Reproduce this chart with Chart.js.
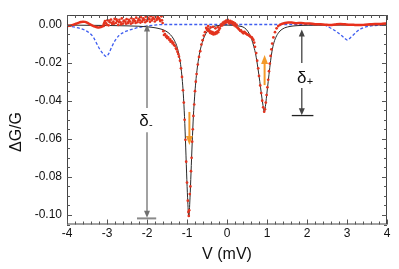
<!DOCTYPE html>
<html><head><meta charset="utf-8">
<script src="https://cdn.jsdelivr.net/npm/chart.js@4/dist/chart.umd.min.js"></script>
<style>html,body{margin:0;padding:0;background:#fff}#wrap{width:399px;height:269px}</style>
</head><body><div id="wrap"><canvas id="c" width="399" height="269"></canvas></div>
<script>
// ---- tick labels ----
const xTicks = [-4, -3, -2, -1, 0, 1, 2, 3, 4];
const yTicks = [0, -0.02, -0.04, -0.06, -0.08, -0.10];

// ---- black fit curve ----
const fitV = [-4.0,-3.5,-3.0,-2.5,-2.2,-2.0,-1.8,-1.65,-1.55,-1.45,-1.38,-1.32,-1.26,-1.21,-1.17,-1.13,-1.10,-1.07,-1.04,-1.01,-0.985,-0.955,-0.925,-0.90,-0.87,-0.84,-0.81,-0.78,-0.75,-0.71,-0.67,-0.62,-0.56,-0.50,-0.42,-0.35,-0.20,0.00,0.15,0.30,0.40,0.48,0.56,0.62,0.67,0.72,0.77,0.82,0.86,0.90,0.93,0.96,0.99,1.03,1.07,1.11,1.16,1.22,1.30,1.40,1.55,1.75,2.0,3.0,4.0];
const fitG = [-0.0003,-0.0004,-0.0005,-0.0007,-0.0009,-0.0012,-0.0017,-0.0024,-0.0032,-0.0046,-0.0062,-0.0082,-0.0110,-0.0150,-0.0195,-0.0265,-0.0340,-0.0450,-0.0600,-0.0780,-0.0910,-0.1010,-0.0910,-0.0780,-0.0620,-0.0480,-0.0380,-0.0300,-0.0240,-0.0180,-0.0135,-0.0095,-0.0060,-0.0038,-0.0020,-0.0011,-0.0005,-0.0003,-0.0004,-0.0008,-0.0013,-0.0025,-0.0050,-0.0080,-0.0115,-0.0160,-0.0225,-0.0300,-0.0365,-0.0425,-0.0460,-0.0430,-0.0375,-0.0300,-0.0225,-0.0160,-0.0105,-0.0068,-0.0040,-0.0022,-0.0011,-0.0006,-0.0004,-0.0003,-0.0002];

// ---- blue dashed curve ----
const blueV = [-4.0,-3.8,-3.68,-3.55,-3.43,-3.33,-3.26,-3.18,-3.09,-3.02,-2.95,-2.88,-2.80,-2.70,-2.59,-2.45,-2.34,-2.2,-2.0,-1.8,-1.6,2.4,2.49,2.62,2.74,2.84,2.92,3.01,3.09,3.17,3.27,3.37,3.5,3.6,3.8,4.0];
const blueG = [-0.0008,-0.0014,-0.0020,-0.0030,-0.0046,-0.0070,-0.0099,-0.0130,-0.0155,-0.0168,-0.0150,-0.0117,-0.0085,-0.0058,-0.0042,-0.0030,-0.0023,-0.0015,-0.0008,-0.0003,0.0,0.0,-0.0008,-0.0022,-0.0038,-0.0054,-0.0068,-0.0082,-0.0068,-0.0052,-0.0033,-0.0020,-0.0011,-0.0007,-0.0004,-0.0003];

// ---- red data: dense segments ----
const redLeftV = [-4.0,-3.95,-3.9,-3.85,-3.8,-3.75,-3.7,-3.65,-3.6,-3.55,-3.5,-3.45,-3.4,-3.35,-3.3,-3.25,-3.2,-3.15,-3.1,-3.06];
const redLeftG = [-0.0008,-0.0007,-0.0005,-0.0002,0.0002,0.0006,0.0010,0.0013,0.0015,0.0014,0.0010,0.0004,-0.0002,-0.0007,-0.0011,-0.0014,-0.0015,-0.0013,-0.0009,-0.0004];
const redRightV = [1.30,1.37,1.45,1.53,1.62,1.74,1.85,1.95,2.07,2.2,2.33,2.45,2.58,2.7,2.83,2.95,3.08,3.2,3.33,3.45,3.58,3.7,3.83,3.95,4.0];
const redRightG = [-0.0005,0.0003,0.0008,0.0010,0.0010,0.0007,0.0008,0.0006,0.0005,0.0002,0.0001,-0.0001,-0.0003,0.0000,0.0003,0.0001,-0.0001,-0.0002,-0.0003,-0.0001,0.0001,0.0003,0.0003,0.0005,0.0005];

// ---- red data: individual points ----
const redV = [
-3.08,-3.05,-3.02,-2.99,-2.96,-2.93,-2.9,-2.87,-2.84,-2.81,-2.78,-2.75,-2.72,-2.69,-2.66,-2.63,-2.6,-2.57,-2.54,-2.51,-2.48,-2.45,-2.42,-2.39,-2.36,-2.33,-2.3,-2.27,-2.24,-2.21,-2.18,-2.15,-2.12,-2.09,-2.06,-2.03,-2.0,-1.97,-1.94,-1.91,-1.88,-1.85,-1.82,-1.79,-1.76,-1.73,-1.7,-1.67,-1.64,-1.61,
-3.065,-3.005,-2.945,-2.885,-2.825,-2.765,-2.705,-2.645,-2.585,-2.525,-2.465,-2.405,-2.345,-2.285,-2.225,-2.165,-2.105,-2.045,-1.985,-1.925,-1.865,-1.805,-1.745,-1.685,-1.625,
-1.59,-1.575,-1.55,-1.525,-1.51,-1.49,-1.47,-1.44,-1.42,-1.41,-1.38,-1.36,-1.34,-1.325,-1.30,-1.275,-1.26,-1.24,-1.22,-1.20,
-1.175,-1.15,-1.125,-1.10,-1.08,-1.06,-1.04,-1.02,-1.00,-0.98,-0.965,-0.955,
-0.945,-0.93,-0.915,-0.90,-0.885,-0.87,-0.855,-0.84,-0.82,-0.80,-0.78,-0.76,-0.73,-0.70,-0.67,-0.64,-0.61,-0.58,-0.55,
-0.52,-0.50,-0.48,-0.46,-0.44,-0.42,-0.40,-0.38,-0.36,-0.34,-0.32,-0.30,-0.28,-0.26,-0.24,-0.22,-0.20,-0.18,-0.16,-0.14,-0.12,-0.10,-0.08,-0.06,-0.04,-0.02,0.00,0.02,0.04,0.06,0.08,0.10,0.12,0.14,0.16,0.18,0.20,0.22,0.24,0.26,-0.47,-0.41,-0.35,-0.29,-0.23,
0.28,0.30,0.33,0.35,0.37,0.39,0.41,0.43,0.45,0.47,0.49,0.51,0.53,0.55,0.57,0.59,0.62,0.64,0.66,0.68,
0.70,0.73,0.755,0.78,0.80,0.83,0.855,0.88,0.905,0.93,0.95,0.97,0.99,1.01,1.03,1.05,1.07,1.09,1.11,1.13,1.16,1.20,1.24,1.28];
const redG = [
0.0002,0.0018,0.0006,0.0022,-0.0004,0.0012,0.0026,0.0003,0.0015,0.0030,0.0008,0.0019,-0.0002,0.0025,0.0011,0.0032,0.0005,0.0021,0.0014,0.0028,0.0007,0.0024,0.0016,0.0033,0.0009,0.0027,0.0018,0.0036,0.0012,0.0030,0.0022,0.0038,0.0015,0.0032,0.0025,0.0041,0.0019,0.0035,0.0028,0.0044,0.0021,0.0037,0.0030,0.0046,0.0024,0.0039,0.0033,0.0018,0.0043,0.0008,
0.0010,-0.0002,0.0020,0.0009,0.0004,0.0027,0.0013,0.0001,0.0017,0.0004,0.0013,0.0004,0.0020,0.0008,0.0021,0.0010,0.0024,0.0012,0.0027,0.0014,0.0029,0.0016,0.0031,0.0026,0.0022,
-0.0035,-0.0055,-0.0050,-0.0064,-0.0060,-0.0072,-0.0068,-0.0081,-0.0078,-0.0090,-0.0088,-0.0099,-0.0096,-0.0108,-0.0112,-0.0125,-0.0130,-0.0143,-0.0155,-0.0169,
-0.0190,-0.0230,-0.0275,-0.0345,-0.0410,-0.0500,-0.0605,-0.0720,-0.0830,-0.0925,-0.0985,-0.1005,
-0.0975,-0.0890,-0.0850,-0.0770,-0.0700,-0.0615,-0.0550,-0.0480,-0.0420,-0.0350,-0.0300,-0.0260,-0.0210,-0.0170,-0.0140,-0.0105,-0.0082,-0.0058,-0.0040,
-0.0018,-0.0028,-0.0022,-0.0035,-0.0030,-0.0044,-0.0037,-0.0048,-0.0040,-0.0052,-0.0045,-0.0050,-0.0041,-0.0047,-0.0036,-0.0040,-0.0028,-0.0020,-0.0008,0.0002,-0.0005,0.0010,0.0004,0.0016,0.0008,0.0020,0.0012,0.0024,0.0015,0.0006,0.0019,0.0009,0.0016,0.0003,0.0011,-0.0004,0.0006,-0.0010,-0.0002,-0.0016,-0.0008,-0.0015,-0.0012,-0.0020,-0.0014,
-0.0020,-0.0026,-0.0033,-0.0030,-0.0038,-0.0042,-0.0046,-0.0038,-0.0043,-0.0047,-0.0050,-0.0053,-0.0055,-0.0057,-0.0060,-0.0065,-0.0067,-0.0075,-0.0081,-0.0095,
-0.0117,-0.0150,-0.0190,-0.0230,-0.0270,-0.0320,-0.0360,-0.0400,-0.0435,-0.0458,-0.0445,-0.0410,-0.0370,-0.0330,-0.0290,-0.0245,-0.0205,-0.0165,-0.0130,-0.0100,-0.0068,-0.0040,-0.0020,-0.0008];

// ---- annotations (data units) ----
const deltaMinus = {v:-2.0, tip1:0.0, gap1:-0.0438, gap2:-0.0566, tip2:-0.1015, barFrom:-2.25, barTo:-1.77, barG:-0.1018, labelV:-2.075, labelG:-0.0533, sub:'-'};
const deltaPlus  = {v:1.87, tip1:-0.0026, gap1:-0.0202, gap2:-0.0333, tip2:-0.0476, barFrom:1.62, barTo:2.16, barG:-0.0478, labelV:1.87, labelG:-0.0307, sub:'+'};
const orangeArrows = [{v:-0.94, from:-0.0459, to:-0.0633}, {v:0.94, from:-0.0318, to:-0.0160}];

const pts = (xs, ys) => xs.map((v, i) => ({x: v, y: ys[i]}));
const FONT = '"Liberation Sans", Arial, Helvetica, sans-serif';

function arrowHead(ctx, x, yTip, dir, hw, hl) {
  ctx.beginPath();
  ctx.moveTo(x, yTip);
  ctx.lineTo(x - hw / 2, yTip - dir * hl);
  ctx.lineTo(x + hw / 2, yTip - dir * hl);
  ctx.closePath();
  ctx.fill();
}
function arrow(ctx, x, y0, y1, color, lw, hw, hl) {
  const dir = Math.sign(y1 - y0);
  ctx.strokeStyle = color; ctx.fillStyle = color; ctx.lineWidth = lw;
  ctx.beginPath(); ctx.moveTo(x, y0); ctx.lineTo(x, y1 - dir * hl * 0.7); ctx.stroke();
  arrowHead(ctx, x, y1, dir, hw, hl);
}

const deco = {
  id: 'deco',
  afterDatasetsDraw(chart) {
    const {ctx, chartArea: a, scales: {x, y}} = chart;
    ctx.save();
    // frame
    ctx.strokeStyle = '#444'; ctx.lineWidth = 1;
    ctx.strokeRect(a.left + 0.5, a.top + 0.5, a.right - a.left - 1, a.bottom - a.top - 1);
    // inward ticks
    ctx.strokeStyle = '#555'; ctx.lineWidth = 1;
    ctx.beginPath();
    for (let k = -20; k <= 20; k++) {
      const v = k / 5; const px = Math.round(x.getPixelForValue(v)) + 0.5;
      const len = (k % 5 === 0) ? 5 : 3;
      ctx.moveTo(px, a.bottom); ctx.lineTo(px, a.bottom - len);
      ctx.moveTo(px, a.top); ctx.lineTo(px, a.top + len);
    }
    for (let k = -21; k <= 1; k++) {
      const v = k * 0.005; const py = Math.round(y.getPixelForValue(v)) + 0.5;
      const len = (k % 4 === 0) ? 5 : 3;
      ctx.moveTo(a.left, py); ctx.lineTo(a.left + len, py);
      ctx.moveTo(a.right, py); ctx.lineTo(a.right - len, py);
    }
    ctx.stroke();

    // delta annotations
    [[deltaMinus, '#707070', '#8a8a8a', 2], [deltaPlus, '#444', '#222', 1.3]].forEach(([d, c, bc, bw]) => {
      const px = x.getPixelForValue(d.v);
      arrow(ctx, px, y.getPixelForValue(d.gap1), y.getPixelForValue(d.tip1), c, 1.3, 6, 7);
      arrow(ctx, px, y.getPixelForValue(d.gap2), y.getPixelForValue(d.tip2), c, 1.3, 6, 7);
      ctx.strokeStyle = bc; ctx.lineWidth = bw;
      ctx.beginPath();
      const by = y.getPixelForValue(d.barG);
      ctx.moveTo(x.getPixelForValue(d.barFrom), by); ctx.lineTo(x.getPixelForValue(d.barTo), by);
      ctx.stroke();
      ctx.fillStyle = '#111';
      ctx.font = '17px ' + FONT; ctx.textAlign = 'center'; ctx.textBaseline = 'alphabetic';
      const lx = x.getPixelForValue(d.labelV), ly = y.getPixelForValue(d.labelG);
      ctx.fillText('δ', lx, ly);
      ctx.font = '11px ' + FONT; ctx.textAlign = 'left';
      ctx.fillText(d.sub, lx + 5, ly + 2);
    });

    // orange arrows
    orangeArrows.forEach(o => {
      arrow(ctx, x.getPixelForValue(o.v), y.getPixelForValue(o.from), y.getPixelForValue(o.to), '#f39a2a', 2, 7, 9);
    });

    // axis titles
    ctx.fillStyle = '#111';
    ctx.font = '16px ' + FONT; ctx.textAlign = 'center'; ctx.textBaseline = 'alphabetic';
    ctx.fillText('V (mV)', (a.left + a.right) / 2, 259);
    ctx.translate(21, 132); ctx.rotate(-Math.PI / 2);
    ctx.fillText('ΔG/G', 0, 0);
    ctx.restore();
  }
};

new Chart(document.getElementById('c'), {
  type: 'scatter',
  data: {
    datasets: [
      {data: pts(redV, redG), showLine: false, pointRadius: 1.35, pointBorderWidth: 0, pointBackgroundColor: '#e3341f', order: 1},
      {data: pts(redLeftV, redLeftG), showLine: true, borderColor: '#e8301c', borderWidth: 2.5, pointRadius: 0, cubicInterpolationMode: 'monotone', order: 2},
      {data: pts(redRightV, redRightG), showLine: true, borderColor: '#e8301c', borderWidth: 2.5, pointRadius: 0, cubicInterpolationMode: 'monotone', order: 2},
      {data: pts(fitV, fitG), showLine: true, borderColor: '#2a2a2a', borderWidth: 1, pointRadius: 0, cubicInterpolationMode: 'monotone', order: 3},
      {data: pts(blueV, blueG), showLine: true, borderColor: '#3f5ef0', borderWidth: 1.3, borderDash: [3, 2], pointRadius: 0, cubicInterpolationMode: 'monotone', order: 4}
    ]
  },
  options: {
    responsive: false, animation: false, devicePixelRatio: 1,
    layout: {padding: {top: 15, right: 12, left: 0, bottom: 0}},
    plugins: {legend: {display: false}, tooltip: {enabled: false}},
    scales: {
      x: {
        type: 'linear', min: -4, max: 4,
        grid: {display: false, drawTicks: false}, border: {display: false},
        afterBuildTicks: s => { s.ticks = xTicks.map(v => ({value: v})); },
        afterFit: s => { s.height = 44.5; },
        ticks: {padding: 2, color: '#111', font: {family: FONT, size: 12}, maxRotation: 0, autoSkip: false,
                callback: v => String(v)}
      },
      y: {
        type: 'linear', min: -0.105, max: 0.005,
        grid: {display: false, drawTicks: false}, border: {display: false},
        afterBuildTicks: s => { s.ticks = yTicks.map(v => ({value: v})); },
        afterFit: s => { s.width = 67; },
        ticks: {padding: 5, color: '#111', font: {family: FONT, size: 12}, autoSkip: false,
                callback: v => Math.abs(v) < 1e-9 ? '0.00' : Number(v).toFixed(2)}
      }
    }
  },
  plugins: [deco]
});
</script></body></html>
